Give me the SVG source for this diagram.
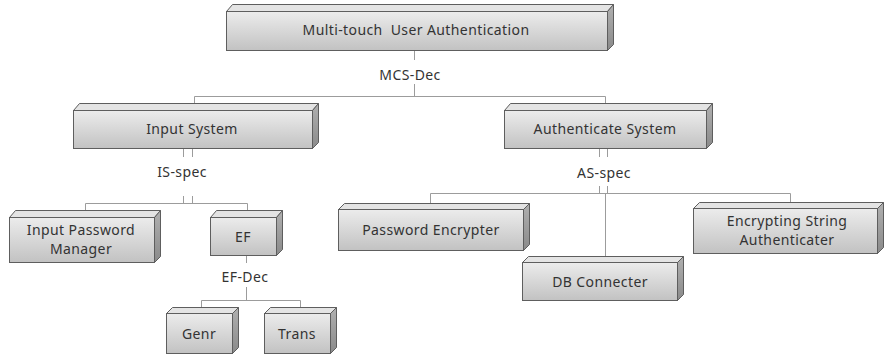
<svg xmlns="http://www.w3.org/2000/svg" width="884" height="354" viewBox="0 0 884 354">
<defs>
<linearGradient id="front" x1="0" y1="0" x2="0" y2="1">
<stop offset="0" stop-color="#ececec"/>
<stop offset="1" stop-color="#c2c2c2"/>
</linearGradient>
<linearGradient id="side" x1="0" y1="0" x2="0" y2="1">
<stop offset="0" stop-color="#b0b0b0"/>
<stop offset="1" stop-color="#8a8a8a"/>
</linearGradient>
</defs>
<style>
.f{fill:url(#front);stroke:#5e5e5e;stroke-width:1}
.t{fill:#e4e4e4;stroke:#5e5e5e;stroke-width:1;stroke-linejoin:round}
.s{fill:url(#side);stroke:#5e5e5e;stroke-width:1;stroke-linejoin:round}
text{font-family:"Noto Sans","DejaVu Sans",sans-serif;font-size:14px;letter-spacing:0.4px;fill:#333;text-anchor:middle}
.c{fill:none;stroke:#9c9c9c;stroke-width:1}
</style>
<rect width="884" height="354" fill="#fff"/>

<g id="connectors">
<path class="c" d="M414.5 50V60M414.5 84V96.5M194.5 104V96.5H605.5V104"/>
<path class="c" d="M183.5 148V157M192.5 148V157M183.5 196V204M192.5 196V204M85.5 211V203.5H247.5V211"/>
<path class="c" d="M246.5 255V263M246.5 287V300.5M201.5 308V300.5H300.5V308"/>
<path class="c" d="M599.5 148V157M607.5 148V157M599.5 186V193M607.5 186V193M430.5 203V193.5H790.5V202M605.5 193V256"/>
<text x="410" y="80">MCS-Dec</text>
<text x="182" y="177">IS-spec</text>
<text x="604" y="178">AS-spec</text>
<text x="245" y="282">EF-Dec</text>
</g>

<g id="node-mua">
<polygon class="t" points="226.5,11.5 232.5,4.5 613.5,4.5 607.5,11.5"/>
<polygon class="s" points="607.5,11.5 613.5,4.5 613.5,44.5 607.5,50.5"/>
<rect class="f" x="226.5" y="11.5" width="381" height="39"/>
<text x="416" y="35">Multi-touch&#160; User Authentication</text>
</g>

<g id="node-input-system">
<polygon class="t" points="73.5,110.5 79.5,103.5 318.5,103.5 312.5,110.5"/>
<polygon class="s" points="312.5,110.5 318.5,103.5 318.5,142.5 312.5,148.5"/>
<rect class="f" x="73.5" y="110.5" width="239" height="38"/>
<text x="192" y="134">Input System</text>
</g>

<g id="node-authenticate-system">
<polygon class="t" points="504.5,110.5 510.5,103.5 712.5,103.5 706.5,110.5"/>
<polygon class="s" points="706.5,110.5 712.5,103.5 712.5,142.5 706.5,148.5"/>
<rect class="f" x="504.5" y="110.5" width="202" height="38"/>
<text x="605" y="134">Authenticate System</text>
</g>

<g id="node-ipm">
<polygon class="t" points="9.5,217.5 15.5,210.5 160.5,210.5 154.5,217.5"/>
<polygon class="s" points="154.5,217.5 160.5,210.5 160.5,256.5 154.5,262.5"/>
<rect class="f" x="9.5" y="217.5" width="145" height="45"/>
<text x="81" y="235">Input Password</text>
<text x="81" y="254">Manager</text>
</g>

<g id="node-ef">
<polygon class="t" points="210.5,217.5 216.5,210.5 282.5,210.5 276.5,217.5"/>
<polygon class="s" points="276.5,217.5 282.5,210.5 282.5,249.5 276.5,255.5"/>
<rect class="f" x="210.5" y="217.5" width="66" height="38"/>
<text x="243" y="242">EF</text>
</g>

<g id="node-genr">
<polygon class="t" points="166.5,313.5 172.5,307.5 238.5,307.5 232.5,313.5"/>
<polygon class="s" points="232.5,313.5 238.5,307.5 238.5,347.5 232.5,353.5"/>
<rect class="f" x="166.5" y="313.5" width="66" height="40"/>
<text x="199" y="339">Genr</text>
</g>

<g id="node-trans">
<polygon class="t" points="264.5,313.5 270.5,307.5 336.5,307.5 330.5,313.5"/>
<polygon class="s" points="330.5,313.5 336.5,307.5 336.5,347.5 330.5,353.5"/>
<rect class="f" x="264.5" y="313.5" width="66" height="40"/>
<text x="297" y="339">Trans</text>
</g>

<g id="node-password-encrypter">
<polygon class="t" points="338.5,209.5 344.5,203.5 529.5,203.5 523.5,209.5"/>
<polygon class="s" points="523.5,209.5 529.5,203.5 529.5,244.5 523.5,250.5"/>
<rect class="f" x="338.5" y="209.5" width="185" height="41"/>
<text x="431" y="235">Password Encrypter</text>
</g>

<g id="node-db-connecter">
<polygon class="t" points="522.5,262.5 528.5,256.5 683.5,256.5 677.5,262.5"/>
<polygon class="s" points="677.5,262.5 683.5,256.5 683.5,294.5 677.5,300.5"/>
<rect class="f" x="522.5" y="262.5" width="155" height="38"/>
<text x="600" y="287">DB Connecter</text>
</g>

<g id="node-esa">
<polygon class="t" points="693.5,208.5 699.5,202.5 883.5,202.5 877.5,208.5"/>
<polygon class="s" points="877.5,208.5 883.5,202.5 883.5,247.5 877.5,253.5"/>
<rect class="f" x="693.5" y="208.5" width="184" height="45"/>
<text x="787" y="226">Encrypting String</text>
<text x="787" y="245">Authenticater</text>
</g>
</svg>
